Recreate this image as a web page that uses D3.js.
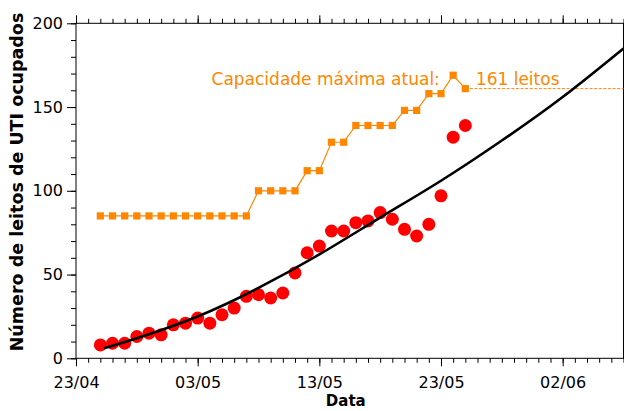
<!DOCTYPE html>
<html>
<head>
<meta charset="utf-8">
<script src="https://cdn.jsdelivr.net/npm/d3@7"></script>
<style>
  body { margin: 0; background: #fff; }
  svg { display: block; }
  text { font-family: "DejaVu Sans", sans-serif; }
</style>
</head>
<body>
<svg id="chart" width="624" height="411"></svg>
<script>
// leitos de UTI ocupados por dia (25/04 a 25/05)
var datas = ["25/04","26/04","27/04","28/04","29/04","30/04","01/05","02/05","03/05","04/05",
             "05/05","06/05","07/05","08/05","09/05","10/05","11/05","12/05","13/05","14/05",
             "15/05","16/05","17/05","18/05","19/05","20/05","21/05","22/05","23/05","24/05","25/05"];
var ocupados = [8, 9, 9, 13, 15, 14, 20, 21, 24, 21,
                26, 30, 37, 38, 36, 39, 51, 63, 67, 76,
                76, 81, 82, 87, 83, 77, 73, 80, 97, 132, 139];
// capacidade de leitos no mesmo periodo
var capacidade = [85, 85, 85, 85, 85, 85, 85, 85, 85, 85,
                  85, 85, 85, 100, 100, 100, 100, 112, 112, 129,
                  129, 139, 139, 139, 139, 148, 148, 158, 158, 169, 161];
var capacidadeAtual = 161;

// curva de ajuste (dias depois de 23/04, valor)
var ajusteDias = [2.3, 5, 10, 15, 20, 25, 30, 35, 40, 45];
var ajusteValores = [6, 12, 25, 42, 62, 84, 106, 130, 156, 185];

var xTicks = ["23/04", "03/05", "13/05", "23/05", "02/06"];
var yTicks = [0, 50, 100, 150, 200];

(function () {
  var svg = d3.select("#chart");
  var parseDate = function (s) { return d3.timeParse("%d/%m/%Y")(s + "/2020"); };
  var inicio = parseDate("23/04");
  var fim = parseDate("07/06");

  var x = d3.scaleTime().domain([inicio, fim]).range([76, 623.5]);
  var y = d3.scaleLinear().domain([0, 200]).range([358.3, 23.3]);
  var x0 = x.range()[0], x1 = x.range()[1], y0 = y.range()[0], y1 = y.range()[1];

  var diasMenores = d3.timeDay.range(inicio, d3.timeDay.offset(fim, 1));
  var yMenores = d3.range(0, 201, 10);
  var xMaiores = xTicks.map(parseDate);
  var fmt = d3.timeFormat("%d/%m");

  function estilo(g, semTexto) {
    g.select(".domain").remove();
    g.selectAll("line").attr("stroke", "#000").attr("stroke-width", 1);
    g.selectAll("text").attr("fill", "#000").style("font-size", "16px")
      .style("font-family", "'DejaVu Sans', sans-serif");
    if (semTexto) g.selectAll("text").remove();
  }

  // eixo x inferior
  svg.append("g").attr("transform", "translate(0," + y0 + ")")
    .call(d3.axisBottom(x).tickValues(diasMenores).tickSize(4.5).tickFormat(""))
    .call(estilo, true);
  svg.append("g").attr("transform", "translate(0," + y0 + ")")
    .call(d3.axisBottom(x).tickValues(xMaiores).tickSize(8).tickPadding(10).tickFormat(fmt))
    .call(estilo, false);
  // eixo x superior
  svg.append("g").attr("transform", "translate(0," + y1 + ")")
    .call(d3.axisTop(x).tickValues(diasMenores).tickSize(4.5).tickFormat(""))
    .call(estilo, true);
  svg.append("g").attr("transform", "translate(0," + y1 + ")")
    .call(d3.axisTop(x).tickValues(xMaiores).tickSize(8).tickFormat(""))
    .call(estilo, true);
  // eixo y esquerdo
  svg.append("g").attr("transform", "translate(" + x0 + ",0)")
    .call(d3.axisLeft(y).tickValues(yMenores).tickSize(5).tickFormat(""))
    .call(estilo, true);
  svg.append("g").attr("transform", "translate(" + x0 + ",0)")
    .call(d3.axisLeft(y).tickValues(yTicks).tickSize(9).tickPadding(4))
    .call(estilo, false);
  // eixo y direito
  svg.append("g").attr("transform", "translate(" + x1 + ",0)")
    .call(d3.axisRight(y).tickValues(yMenores).tickSize(5).tickFormat(""))
    .call(estilo, true);

  // moldura
  svg.append("rect")
    .attr("x", x0).attr("y", y1)
    .attr("width", x1 - x0).attr("height", y0 - y1)
    .attr("fill", "none").attr("stroke", "#000").attr("stroke-width", 1);

  var laranja = "#ff8600";
  var capData = datas.map(function (d, i) { return {date: parseDate(d), v: capacidade[i]}; });
  var ocupData = datas.map(function (d, i) { return {date: parseDate(d), v: ocupados[i]}; });

  var linha = d3.line()
    .x(function (d) { return x(d.date); })
    .y(function (d) { return y(d.v); });

  svg.append("path").datum(capData)
    .attr("fill", "none").attr("stroke", laranja).attr("stroke-width", 1.2)
    .attr("d", linha);

  svg.selectAll(".cap").data(capData).enter().append("rect")
    .attr("class", "cap")
    .attr("x", function (d) { return x(d.date) - 3.6; })
    .attr("y", function (d) { return y(d.v) - 3.6; })
    .attr("width", 7.2).attr("height", 7.2)
    .attr("fill", laranja);

  // linha tracejada da capacidade atual
  var ultimo = capData[capData.length - 1].date;
  svg.append("line")
    .attr("x1", x(ultimo)).attr("x2", x1)
    .attr("y1", y(capacidadeAtual)).attr("y2", y(capacidadeAtual))
    .attr("stroke", laranja).attr("stroke-width", 1)
    .attr("stroke-dasharray", "3,1.6");

  svg.append("text")
    .attr("x", x(ultimo) - 25.5)
    .attr("y", 85)
    .attr("text-anchor", "end")
    .attr("fill", laranja)
    .style("font-size", "17px")
    .text("Capacidade máxima atual:");
  svg.append("text")
    .attr("x", x(ultimo) + 10.5)
    .attr("y", 85)
    .attr("fill", laranja)
    .style("font-size", "17px")
    .text(capacidadeAtual + " leitos");

  // pontos observados
  svg.selectAll(".ocup").data(ocupData).enter().append("circle")
    .attr("class", "ocup")
    .attr("cx", function (d) { return x(d.date); })
    .attr("cy", function (d) { return y(d.v); })
    .attr("r", 6.5)
    .attr("fill", "#ff0000");

  // curva de ajuste
  var ajuste = ajusteDias.map(function (d, i) {
    return {date: new Date(inicio.getTime() + d * 864e5), v: ajusteValores[i]};
  });
  svg.append("path").datum(ajuste)
    .attr("fill", "none").attr("stroke", "#000").attr("stroke-width", 2.6)
    .attr("d", linha.curve(d3.curveNatural));

  // rotulos dos eixos
  svg.append("text")
    .attr("transform", "translate(23," + 182 + ") rotate(-90)")
    .attr("text-anchor", "middle")
    .style("font-size", "17.5px").style("font-weight", "bold")
    .text("Número de leitos de UTI ocupados");
  svg.append("text")
    .attr("x", (x0 + x1) / 2 - 4)
    .attr("y", 406)
    .attr("text-anchor", "middle")
    .style("font-size", "15px").style("font-weight", "bold")
    .text("Data");
}());
</script>
</body>
</html>
